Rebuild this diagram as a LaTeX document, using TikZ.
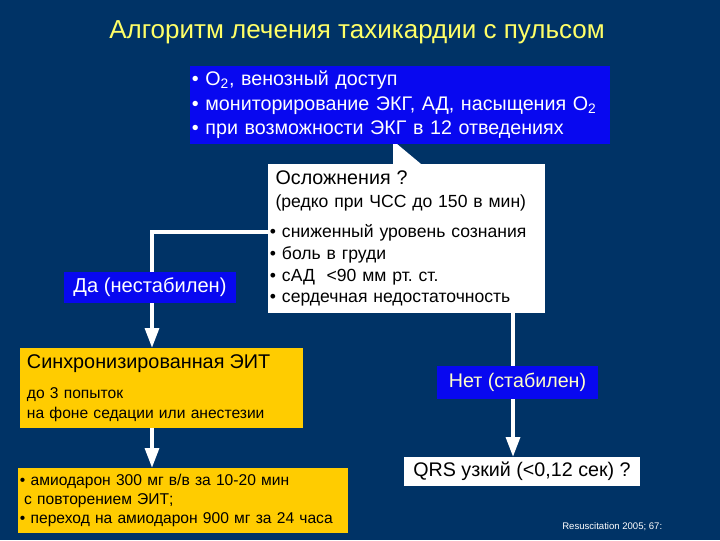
\documentclass[tikz,border=0pt]{standalone}
\usepackage{fontspec}
\setmainfont{Liberation Sans}
\usetikzlibrary{arrows.meta}
\frenchspacing

\definecolor{navy}{RGB}{0,51,102}
\definecolor{slideblue}{RGB}{8,8,240}
\definecolor{gold}{RGB}{255,204,0}
\definecolor{titleyellow}{RGB}{255,255,102}
\definecolor{paleyellow}{RGB}{255,255,200}

\tikzset{
	box/.style={rectangle, inner ysep=0pt, align=left},
	bluebox/.style={box, fill=slideblue, text=white},
	whitebox/.style={box, fill=white, text=black},
	goldbox/.style={box, fill=gold, text=black},
	flow/.style={draw=white, line width=2.2pt},
	flowarrow/.style={flow, -{Triangle[width=10pt,length=14pt]}},
}

\begin{document}
\begin{tikzpicture}[x=0.025cm, y=-0.025cm]
		\path[use as bounding box, fill=navy] (0,0) rectangle (720,540);
		
		\node[text=titleyellow, font=\fontsize{18.5}{22}\selectfont] (title) at (357,32) {Алгоритм лечения тахикардии с пульсом};
		
		\node[bluebox, minimum width=10.5cm, minimum height=1.95cm, inner xsep=0.05cm, text width=10.4cm, font=\fontsize{14}{17.5}\selectfont] (info) at (400,105)
			{• O\textsubscript{2}, венозный доступ\\ • мониторирование ЭКГ, АД, насыщения O\textsubscript{2}\\ • при возможности ЭКГ в 12 отведениях};
		
		% callout wedge
		\fill[white] (393,144) -- (397,144) -- (421,164) -- (393,164) -- cycle;
		\node[whitebox, minimum width=6.925cm, minimum height=3.725cm, inner xsep=0.05cm, text width=6.825cm, font=\fontsize{12.5}{15.5}\selectfont] (compl) at (406.5,238.5)
			{\hspace*{4pt}{\fontsize{14}{17}\selectfont Осложнения ?}\\[1pt]
			 \hspace*{4pt}(редко при ЧСС до 150 в мин)\\[6pt]
			 • сниженный уровень сознания\\ • боль в груди\\ • сАД\ \ <90 мм рт. ст.\\ • сердечная недостаточность};
		
		\node[bluebox, minimum width=4.3cm, minimum height=0.775cm, align=center, font=\fontsize{14.3}{17}\selectfont] (da) at (150,287.5) {Да (нестабилен)};
		
		\node[goldbox, minimum width=7.075cm, minimum height=2cm, inner xsep=0.175cm, text width=6.725cm, font=\fontsize{11.1}{14.3}\selectfont] (synch) at (161.5,388)
			{{\fontsize{14.1}{17}\selectfont Синхронизированная ЭИТ}\\[7pt]
			 до 3 попыток\\ на фоне седации или анестезии\\[-4pt]};
		
		\node[goldbox, minimum width=8.25cm, minimum height=1.625cm, inner xsep=0.05cm, text width=8.15cm, font=\fontsize{11.1}{13.2}\selectfont] (amio) at (183,500.5)
			{• амиодарон 300 мг в/в за 10-20 мин\\ \hspace*{3pt}с повторением ЭИТ;\\ • переход на амиодарон 900 мг за 24 часа};
		
		\node[bluebox, minimum width=4.025cm, minimum height=0.825cm, align=center, text=paleyellow, font=\fontsize{14}{17}\selectfont] (net) at (517.5,382.5) {Нет (стабилен)};
		
		\node[whitebox, minimum width=5.9cm, minimum height=0.725cm, align=center, font=\fontsize{14}{17}\selectfont] (qrs) at (522,471.5) {QRS узкий (<0,12 сек) ?};
		
		\node[anchor=west, text=white, inner sep=0pt, font=\fontsize{6.8}{8}\selectfont] (ref) at (562,527) {Resuscitation 2005; 67:};
		
		\coordinate (yes) at (152,232);
		\coordinate (no) at (513,312);
		
		\draw[flow] (compl.west |- yes) -- (yes) -- (yes |- da.north);
		\draw[flowarrow] (yes |- da.south) -- (yes |- synch.north);
		\draw[flowarrow] (yes |- synch.south) -- (yes |- amio.north);
		\draw[flow] (compl.south -| no) -- (net.north -| no);
		\draw[flowarrow] (net.south -| no) -- (qrs.north -| no);
	\end{tikzpicture}
\end{document}
